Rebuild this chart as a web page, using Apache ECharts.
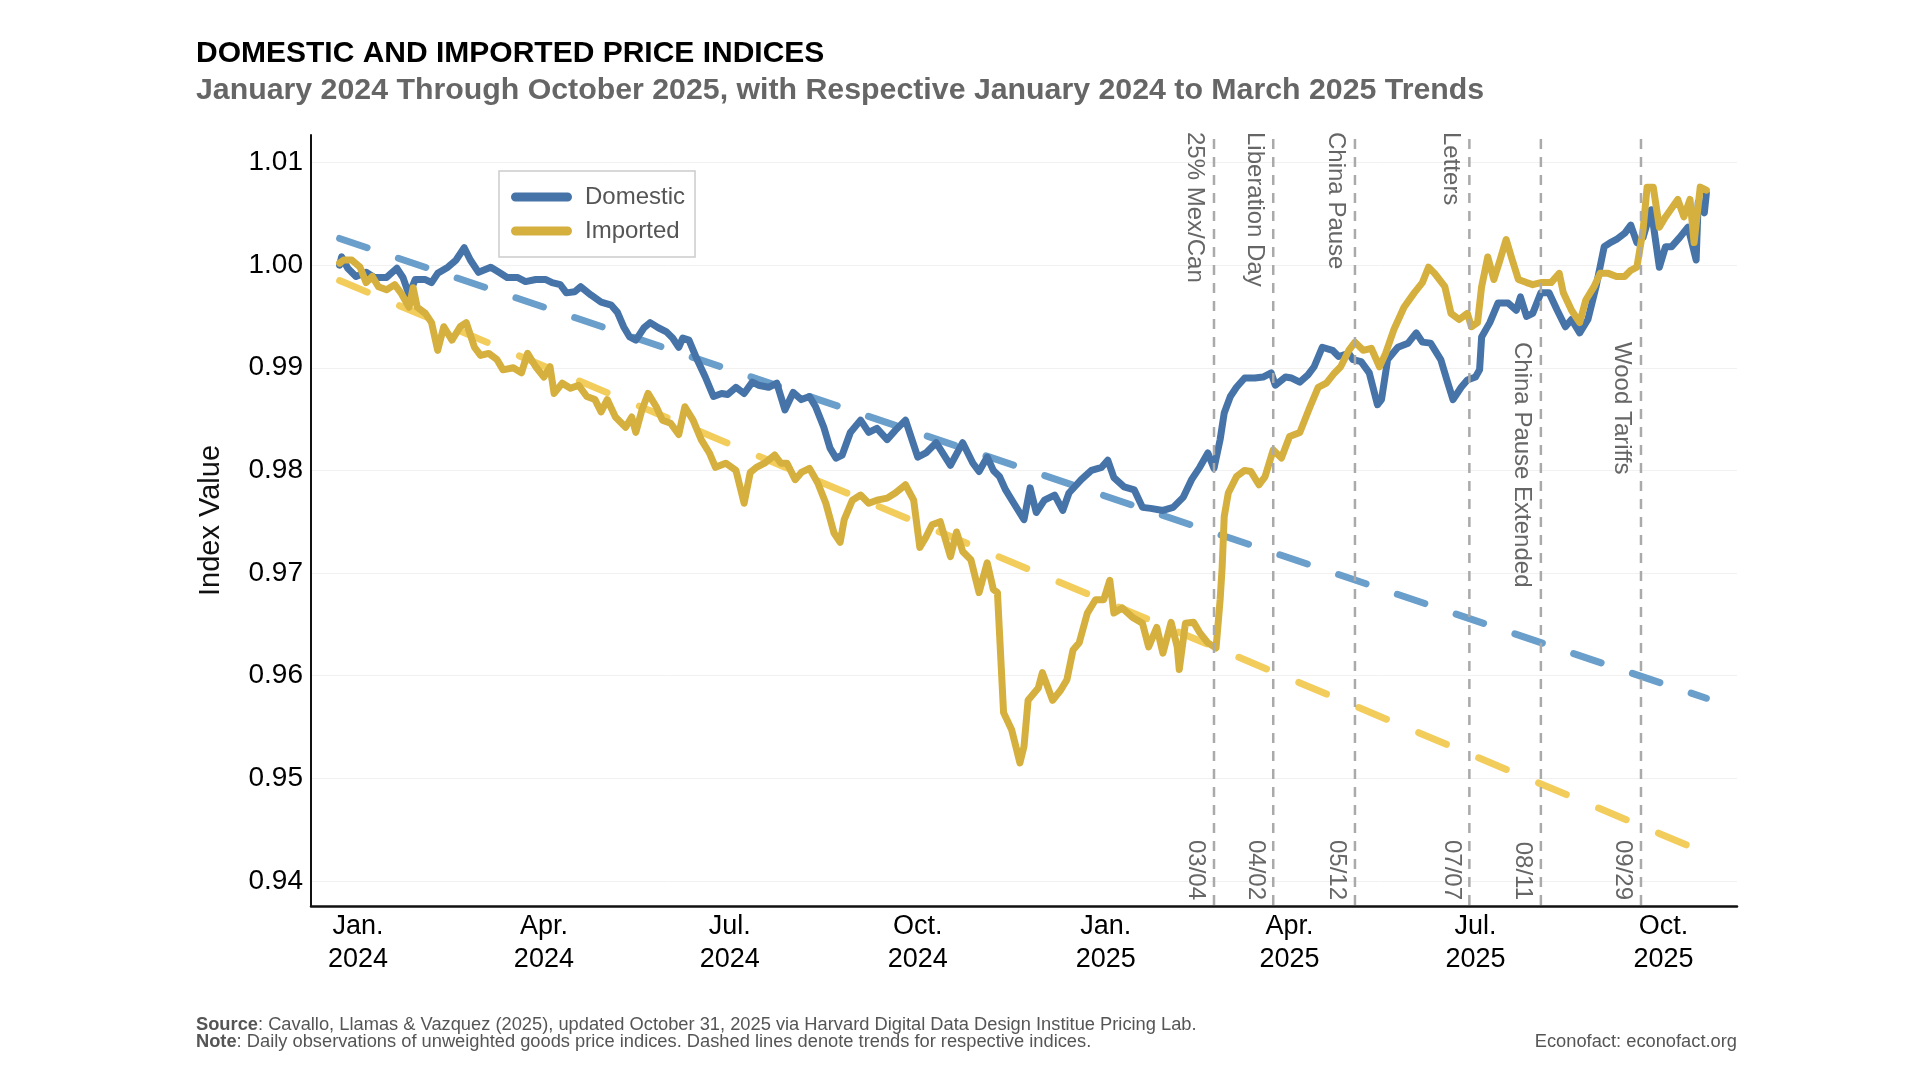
<!DOCTYPE html>
<html>
<head>
<meta charset="utf-8">
<title>Domestic and Imported Price Indices</title>
<script src="https://cdn.jsdelivr.net/npm/echarts@6/dist/echarts.min.js"></script>
<style>
  html, body { margin: 0; padding: 0; background: #fff; }
  #main { width: 1920px; height: 1080px; }
</style>
</head>
<body>
<div id="main"></div>
<script>
// ---- data ----
const domesticDates = [
  "2024-01-01","2024-01-02","2024-01-05","2024-01-09","2024-01-14","2024-01-18","2024-01-24","2024-01-29",
  "2024-02-01","2024-02-04","2024-02-07","2024-02-12","2024-02-15","2024-02-18","2024-02-23","2024-02-27",
  "2024-03-02","2024-03-05","2024-03-09","2024-03-15","2024-03-19","2024-03-23","2024-03-28",
  "2024-04-01","2024-04-06","2024-04-11","2024-04-14","2024-04-18","2024-04-21","2024-04-25","2024-04-28",
  "2024-05-03","2024-05-08","2024-05-13","2024-05-16","2024-05-19","2024-05-22","2024-05-25","2024-05-29",
  "2024-06-01","2024-06-05","2024-06-09","2024-06-12","2024-06-15","2024-06-17","2024-06-20","2024-06-24","2024-06-28",
  "2024-07-02","2024-07-06","2024-07-09","2024-07-13","2024-07-17","2024-07-21","2024-07-24","2024-07-29",
  "2024-08-02","2024-08-06","2024-08-10","2024-08-14","2024-08-18","2024-08-21","2024-08-25","2024-08-28","2024-08-31",
  "2024-09-03","2024-09-07","2024-09-12","2024-09-16","2024-09-20","2024-09-25","2024-09-29",
  "2024-10-04","2024-10-10","2024-10-14","2024-10-19","2024-10-26",
  "2024-11-01","2024-11-06","2024-11-09","2024-11-13","2024-11-16","2024-11-19","2024-11-22","2024-11-26",
  "2024-12-01","2024-12-04","2024-12-07","2024-12-11","2024-12-16","2024-12-20","2024-12-23","2024-12-29",
  "2025-01-03","2025-01-08","2025-01-11","2025-01-14","2025-01-19","2025-01-24","2025-01-28",
  "2025-02-01","2025-02-07","2025-02-12","2025-02-17","2025-02-21","2025-02-25",
  "2025-03-01","2025-03-04","2025-03-07","2025-03-09","2025-03-12","2025-03-15","2025-03-19","2025-03-24","2025-03-28",
  "2025-04-01","2025-04-03","2025-04-08","2025-04-11","2025-04-15","2025-04-19","2025-04-22","2025-04-26",
  "2025-05-01","2025-05-04","2025-05-09","2025-05-11","2025-05-15","2025-05-19","2025-05-23","2025-05-25","2025-05-28",
  "2025-06-02","2025-06-07","2025-06-11","2025-06-14","2025-06-18","2025-06-23","2025-06-26","2025-06-29",
  "2025-07-03","2025-07-06","2025-07-10","2025-07-12","2025-07-13","2025-07-17","2025-07-21","2025-07-26","2025-07-30",
  "2025-08-01","2025-08-04","2025-08-07","2025-08-11","2025-08-15","2025-08-19","2025-08-23","2025-08-26","2025-08-30",
  "2025-09-03","2025-09-07","2025-09-11","2025-09-14","2025-09-17","2025-09-21","2025-09-24","2025-09-27","2025-09-30",
  "2025-10-04","2025-10-08","2025-10-11","2025-10-14","2025-10-18","2025-10-22","2025-10-26","2025-10-27","2025-10-30","2025-10-31"
];
const domesticValues = [
  1.0000,1.0008,0.9997,0.9989,0.9993,0.9988,0.9988,0.9997,
  0.9988,0.9971,0.9986,0.9986,0.9983,0.9992,0.9998,1.0005,
  1.0017,1.0005,0.9993,0.9998,0.9993,0.9988,0.9988,
  0.9984,0.9986,0.9986,0.9983,0.9981,0.9973,0.9974,0.9979,
  0.9971,0.9964,0.9961,0.9954,0.9940,0.9930,0.9927,0.9939,
  0.9944,0.9939,0.9935,0.9929,0.9920,0.9929,0.9927,0.9908,0.9891,
  0.9872,0.9875,0.9874,0.9881,0.9875,0.9886,0.9883,0.9881,
  0.9885,0.9859,0.9876,0.9869,0.9872,0.9862,0.9842,0.9822,0.9812,
  0.9815,0.9837,0.9849,0.9837,0.9841,0.9830,0.9839,
  0.9849,0.9813,0.9817,0.9827,0.9805,
  0.9827,0.9807,0.9799,0.9813,0.9800,0.9794,0.9781,0.9768,
  0.9752,0.9783,0.9759,0.9771,0.9776,0.9761,0.9778,0.9791,
  0.9800,0.9803,0.9810,0.9793,0.9784,0.9781,0.9764,
  0.9763,0.9761,0.9764,0.9774,0.9791,0.9803,
  0.9817,0.9802,0.9830,0.9856,0.9872,0.9881,0.9890,0.9890,0.9891,
  0.9895,0.9883,0.9891,0.9890,0.9886,0.9893,0.9901,0.9920,
  0.9917,0.9911,0.9914,0.9908,0.9906,0.9895,0.9864,0.9869,0.9908,
  0.9920,0.9924,0.9934,0.9925,0.9924,0.9908,0.9888,0.9869,
  0.9881,0.9888,0.9891,0.9898,0.9930,0.9944,0.9963,0.9963,0.9956,
  0.9969,0.9950,0.9953,0.9973,0.9973,0.9956,0.9940,0.9947,0.9934,
  0.9947,0.9979,1.0018,1.0022,1.0025,1.0031,1.0039,1.0022,1.0027,
  1.0054,0.9998,1.0018,1.0018,1.0027,1.0037,1.0005,1.0061,1.0051,1.0070
];

const importedDates = [
  "2024-01-01","2024-01-03","2024-01-07","2024-01-11","2024-01-14","2024-01-17","2024-01-20","2024-01-24","2024-01-28","2024-01-31",
  "2024-02-04","2024-02-06","2024-02-08","2024-02-12","2024-02-15","2024-02-18","2024-02-21","2024-02-25","2024-02-29",
  "2024-03-03","2024-03-07","2024-03-10","2024-03-14","2024-03-18","2024-03-21","2024-03-26","2024-03-30",
  "2024-04-02","2024-04-06","2024-04-10","2024-04-13","2024-04-15","2024-04-19","2024-04-23","2024-04-27",
  "2024-05-01","2024-05-05","2024-05-08","2024-05-11","2024-05-15","2024-05-20","2024-05-23","2024-05-25","2024-05-28","2024-05-31",
  "2024-06-04","2024-06-07","2024-06-11","2024-06-15","2024-06-18","2024-06-22","2024-06-26","2024-06-30",
  "2024-07-03","2024-07-08","2024-07-13","2024-07-17","2024-07-20","2024-07-23","2024-07-27",
  "2024-08-01","2024-08-04","2024-08-07","2024-08-11","2024-08-14","2024-08-18","2024-08-22","2024-08-26","2024-08-30",
  "2024-09-02","2024-09-04","2024-09-08","2024-09-12","2024-09-16","2024-09-20","2024-09-25","2024-09-29",
  "2024-10-04","2024-10-08","2024-10-11","2024-10-14","2024-10-17","2024-10-21","2024-10-26","2024-10-29",
  "2024-11-01","2024-11-05","2024-11-09","2024-11-13","2024-11-16","2024-11-18","2024-11-21","2024-11-25","2024-11-29",
  "2024-12-01","2024-12-03","2024-12-08","2024-12-10","2024-12-15","2024-12-19","2024-12-22","2024-12-25","2024-12-28",
  "2025-01-01","2025-01-05","2025-01-09","2025-01-12","2025-01-14","2025-01-18","2025-01-23","2025-01-28","2025-01-31",
  "2025-02-04","2025-02-07","2025-02-11","2025-02-14","2025-02-15","2025-02-18","2025-02-22","2025-02-25",
  "2025-03-01","2025-03-05","2025-03-07","2025-03-08","2025-03-09","2025-03-11","2025-03-15","2025-03-19","2025-03-22","2025-03-26","2025-03-29",
  "2025-04-02","2025-04-06","2025-04-10","2025-04-15","2025-04-20","2025-04-24","2025-04-28",
  "2025-05-02","2025-05-05","2025-05-09","2025-05-12","2025-05-16","2025-05-20","2025-05-24","2025-05-27","2025-05-31",
  "2025-06-05","2025-06-10","2025-06-14","2025-06-17","2025-06-20","2025-06-25","2025-06-28",
  "2025-07-02","2025-07-06","2025-07-08","2025-07-11","2025-07-13","2025-07-16","2025-07-19","2025-07-22","2025-07-25","2025-07-28","2025-07-31",
  "2025-08-04","2025-08-07","2025-08-11","2025-08-16","2025-08-20","2025-08-22","2025-08-26","2025-08-30",
  "2025-09-02","2025-09-06","2025-09-09","2025-09-13","2025-09-17","2025-09-21","2025-09-24","2025-09-27","2025-09-30",
  "2025-10-02","2025-10-05","2025-10-08","2025-10-11","2025-10-17","2025-10-20","2025-10-23","2025-10-25","2025-10-28","2025-10-31"
];
const importedValues = [
  1.0002,1.0005,1.0005,0.9998,0.9983,0.9989,0.9979,0.9976,0.9981,0.9973,
  0.9959,0.9978,0.9959,0.9953,0.9944,0.9917,0.9940,0.9927,0.9940,
  0.9944,0.9920,0.9912,0.9914,0.9908,0.9898,0.9900,0.9895,
  0.9914,0.9901,0.9891,0.9901,0.9875,0.9885,0.9880,0.9883,
  0.9872,0.9869,0.9857,0.9869,0.9852,0.9842,0.9852,0.9837,0.9859,0.9875,
  0.9862,0.9849,0.9846,0.9835,0.9862,0.9849,0.9830,0.9817,
  0.9803,0.9807,0.9800,0.9768,0.9798,0.9803,0.9807,
  0.9815,0.9807,0.9807,0.9791,0.9798,0.9802,0.9788,0.9768,0.9739,
  0.9730,0.9752,0.9771,0.9776,0.9768,0.9771,0.9773,0.9778,
  0.9786,0.9771,0.9725,0.9735,0.9747,0.9750,0.9716,0.9740,
  0.9721,0.9713,0.9681,0.9710,0.9684,0.9681,0.9564,0.9547,0.9515,
  0.9531,0.9576,0.9588,0.9603,0.9576,0.9586,0.9596,0.9625,0.9632,
  0.9661,0.9674,0.9674,0.9693,0.9661,0.9666,0.9657,0.9651,0.9628,
  0.9647,0.9622,0.9652,0.9628,0.9606,0.9651,0.9652,0.9642,
  0.9632,0.9627,0.9674,0.9706,0.9755,0.9778,0.9794,0.9800,0.9799,0.9786,0.9794,
  0.9820,0.9812,0.9833,0.9837,0.9862,0.9881,0.9885,
  0.9895,0.9901,0.9917,0.9925,0.9917,0.9919,0.9901,0.9914,0.9937,
  0.9959,0.9973,0.9983,0.9998,0.9992,0.9979,0.9953,
  0.9947,0.9953,0.9940,0.9944,0.9979,1.0008,0.9986,1.0005,1.0025,1.0005,0.9986,
  0.9983,0.9981,0.9983,0.9983,0.9992,0.9973,0.9956,0.9944,
  0.9966,0.9979,0.9992,0.9992,0.9989,0.9989,0.9995,0.9998,1.0034,
  1.0076,1.0076,1.0037,1.0047,1.0064,1.0047,1.0064,1.0022,1.0076,1.0073
];

// Jan 2024 - Mar 2025 linear trends, drawn over the whole window
const trendDates = ["2024-01-01", "2025-10-31"];
const domesticTrend = [1.0026, 0.9578];
const importedTrend = [0.9985, 0.9427];

// policy events
const eventDates = ["2025-03-04", "2025-04-02", "2025-05-12", "2025-07-07", "2025-08-11", "2025-09-29"];
const eventNames = ["25% Mex/Can", "Liberation Day", "China Pause", "Letters", "China Pause Extended", "Wood Tariffs"];
const eventLabels = ["03/04", "04/02", "05/12", "07/07", "08/11", "09/29"];

// x tick labels
const tickDates = ["2024-01-10", "2024-04-10", "2024-07-10", "2024-10-10",
                   "2025-01-10", "2025-04-10", "2025-07-10", "2025-10-10"];
const monthNames = { 0: "Jan.", 3: "Apr.", 6: "Jul.", 9: "Oct." };

// ---- chart ----
const FONT = "'Liberation Sans', Arial, sans-serif";
const BLUE = "#4674a8";
const GOLD = "#d5b03e";
const BLUE_TREND = "#6a9ecb";
const GOLD_TREND = "#f3cd5c";
// the last two event names sit lower so they don't sit on the lines
const lowLabel = [false, false, false, false, true, true];

const t = (s) => Date.parse(s);
const zip = (xs, ys) => xs.map((x, i) => [t(x), ys[i]]);

function renderEvent(params, api) {
  const i = params.dataIndex;
  const x = api.coord([api.value(0), 1])[0];
  const cs = params.coordSys;
  const top = cs.y, bottom = cs.y + cs.height;
  const nameY = lowLabel[i] ? top + 207 : top - 3;
  return {
    type: "group",
    children: [
      {
        type: "line",
        shape: { x1: x, y1: top + 4, x2: x, y2: bottom },
        style: { stroke: "#aaaaaa", lineWidth: 2.5, lineDash: [10, 8] }
      },
      {
        type: "text", x: x - 19, y: nameY, rotation: -Math.PI / 2,
        style: { text: eventNames[i], fill: "#666", fontSize: 24, fontFamily: FONT,
                 align: "left", verticalAlign: "middle" }
      },
      {
        type: "text", x: x - 18, y: bottom - 6, rotation: -Math.PI / 2,
        style: { text: eventLabels[i], fill: "#666", fontSize: 24, fontFamily: FONT,
                 align: "right", verticalAlign: "middle" }
      }
    ]
  };
}

const chart = echarts.init(document.getElementById("main"));
chart.setOption({
  animation: false,
  backgroundColor: "#fff",
  textStyle: { fontFamily: FONT },
  title: [
    {
      text: "DOMESTIC AND IMPORTED PRICE INDICES",
      left: 196, top: 35.5, padding: 0,
      textStyle: { fontSize: 30, fontWeight: "bold", color: "#000", lineHeight: 36, fontFamily: FONT }
    },
    {
      text: "January 2024 Through October 2025, with Respective January 2024 to March 2025 Trends",
      left: 196, top: 72.5, padding: 0,
      textStyle: { fontSize: 30.3, fontWeight: "bold", color: "#666", lineHeight: 36, fontFamily: FONT }
    },
    {
      text: "{b|Source}: Cavallo, Llamas & Vazquez (2025), updated October 31, 2025 via Harvard Digital Data Design Institue Pricing Lab.\n{b|Note}: Daily observations of unweighted goods price indices. Dashed lines denote trends for respective indices.",
      left: 196, top: 1016, padding: 0,
      textStyle: {
        fontSize: 18.3, fontWeight: "normal", color: "#555", lineHeight: 17, fontFamily: FONT,
        rich: { b: { fontSize: 18.3, fontWeight: "bold", color: "#555", lineHeight: 17, fontFamily: FONT } }
      }
    },
    {
      text: "Econofact: econofact.org",
      right: 183, top: 1033, padding: 0,
      textStyle: { fontSize: 18.3, fontWeight: "normal", color: "#555", lineHeight: 17, fontFamily: FONT }
    }
  ],
  legend: {
    data: ["Domestic", "Imported"],
    orient: "vertical",
    left: 499, top: 171,
    padding: [14, 10, 14, 12],
    itemGap: 10,
    itemWidth: 61, itemHeight: 9,
    icon: "path://M4,0 H57 A4.5,4.5 0 0 1 57,9 H4 A4.5,4.5 0 0 1 4,0 Z",
    borderColor: "#cccccc", borderWidth: 1.5,
    backgroundColor: "#fff",
    textStyle: { fontSize: 24, color: "#555", fontFamily: FONT, padding: [0, 0, 0, 8] }
  },
  grid: { left: 311, right: 183, top: 135, bottom: 174 },
  xAxis: {
    type: "value",
    min: t("2023-12-18"),
    max: t("2025-11-15"),
    axisLine: { show: true, onZero: false, lineStyle: { color: "#111", width: 2.5 } },
    axisTick: { show: false },
    splitLine: { show: false },
    axisLabel: {
      customValues: tickDates.map(t),
      margin: 4,
      fontSize: 27, lineHeight: 33, color: "#000", fontFamily: FONT,
      formatter: (v) => {
        const d = new Date(v);
        return monthNames[d.getUTCMonth()] + "\n" + d.getUTCFullYear();
      }
    }
  },
  yAxis: {
    type: "value",
    min: 0.93756,
    max: 1.01268,
    splitNumber: 7,
    name: "Index Value",
    nameLocation: "middle",
    nameGap: 86,
    nameTextStyle: { fontSize: 29, color: "#111", fontFamily: FONT },
    axisLine: { show: true, onZero: false, lineStyle: { color: "#111", width: 2 } },
    axisTick: { show: false },
    axisLabel: {
      showMinLabel: false, showMaxLabel: false,
      margin: 8, fontSize: 28, color: "#000", fontFamily: FONT,
      formatter: (v) => v.toFixed(2)
    },
    splitLine: { show: true, showMinLine: false, showMaxLine: false,
                 lineStyle: { color: "#f1f1f1", width: 1 } }
  },
  series: [
    {
      name: "Domestic trend", type: "line", data: zip(trendDates, domesticTrend),
      showSymbol: false, silent: true, z: 2,
      lineStyle: { color: BLUE_TREND, width: 7, type: [29, 33], cap: "round" }
    },
    {
      name: "Imported trend", type: "line", data: zip(trendDates, importedTrend),
      showSymbol: false, silent: true, z: 2,
      lineStyle: { color: GOLD_TREND, width: 7, type: [30, 35], cap: "round" }
    },
    {
      name: "Domestic", type: "line", data: zip(domesticDates, domesticValues),
      showSymbol: false, z: 3,
      itemStyle: { color: BLUE },
      lineStyle: { color: BLUE, width: 7, join: "round", cap: "round" }
    },
    {
      name: "Imported", type: "line", data: zip(importedDates, importedValues),
      showSymbol: false, z: 3,
      itemStyle: { color: GOLD },
      lineStyle: { color: GOLD, width: 7, join: "round", cap: "round" }
    },
    {
      name: "Events", type: "custom", clip: false, silent: true, z: 4,
      data: eventDates.map((d) => [t(d), 1]),
      encode: { x: 0, y: 1 },
      renderItem: renderEvent
    }
  ]
});
</script>
</body>
</html>
